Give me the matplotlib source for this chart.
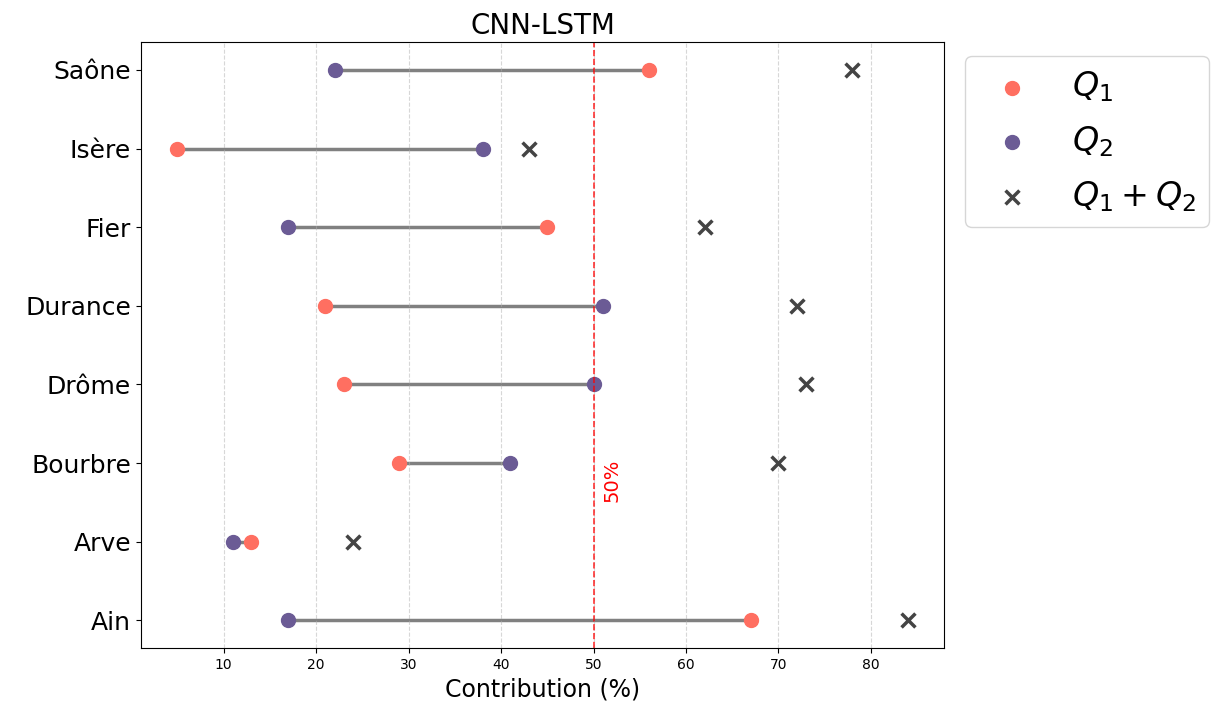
import matplotlib.pyplot as plt
import numpy as np

rivers = ['Ain', 'Arve', 'Bourbre', 'Drôme', 'Durance', 'Fier', 'Isère', 'Saône']
q1 = [67, 13, 29, 23, 21, 45, 5, 56]
q2 = [17, 11, 41, 50, 51, 17, 38, 22]
q_sum = [84, 24, 70, 73, 72, 62, 43, 78]

c_q1 = '#FF6F61'
c_q2 = '#6B5B95'

fig, ax = plt.subplots(figsize=(12.14, 7.08), dpi=100)
plt.subplots_adjust(left=0.116, right=0.778, top=0.94, bottom=0.085)

y = np.arange(len(rivers))
ax.hlines(y, q1, q2, color='grey', lw=2.5, zorder=1)
ax.scatter(q1, y, color=c_q1, s=100, label='$Q_1$', zorder=2)
ax.scatter(q2, y, color=c_q2, s=100, label='$Q_2$', zorder=2)
ax.scatter(q_sum, y, color='#444444', marker='x', s=100, linewidths=2.5,
           label='$Q_1 + Q_2$', zorder=2)

ax.axvline(50, color='red', linestyle='--', lw=1.2, alpha=0.8)
ax.text(51, 1.5, '50%', color='red', rotation=90, fontsize=14, ha='left', va='bottom')

ax.set_yticks(y)
ax.set_yticklabels(rivers, fontsize=18)
ax.tick_params(axis='x', labelsize=10)
ax.set_xlabel('Contribution (%)', fontsize=17)
ax.set_title('CNN-LSTM', fontsize=20)
ax.grid(axis='x', linestyle='--', alpha=0.5)
ax.legend(loc='upper left', bbox_to_anchor=(1.005, 1.005), fontsize=24, labelspacing=0.6)

fig.savefig('out.png', dpi=100)
